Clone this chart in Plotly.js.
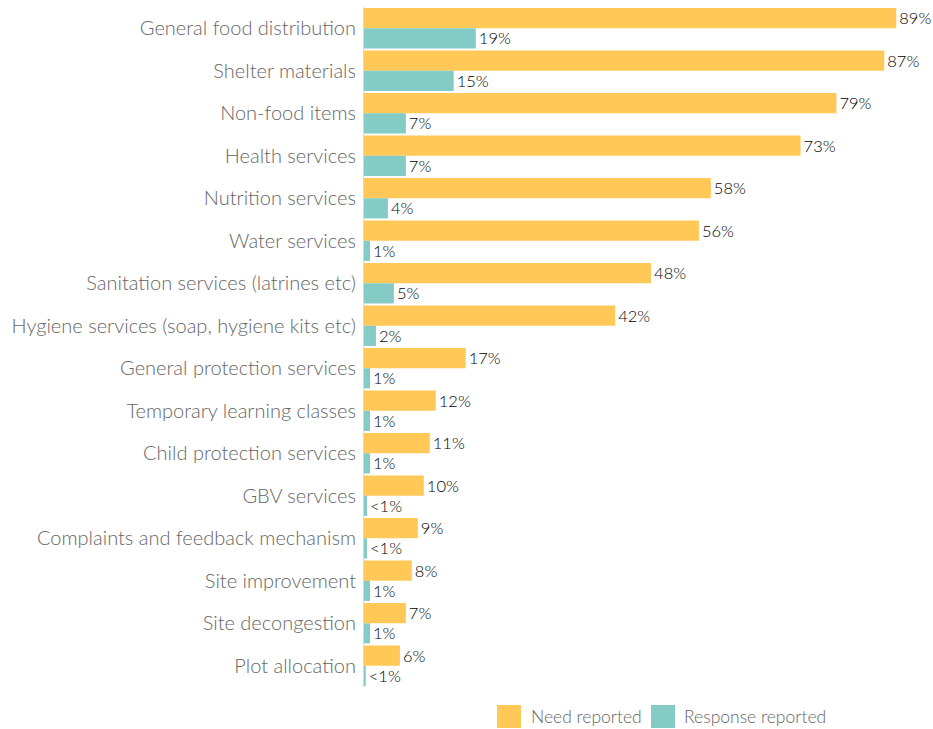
<!DOCTYPE html>
<html>
<head>
<meta charset="utf-8">
<script src="https://cdn.plot.ly/plotly-3.0.1.min.js"></script>
<style>html,body{margin:0;padding:0;background:#fff;}#chart{width:933px;height:729px;}</style>
</head>
<body>
<div id="chart"></div>
<script>
const categories = [
  "General food distribution",
  "Shelter materials",
  "Non-food items",
  "Health services",
  "Nutrition services",
  "Water services",
  "Sanitation services (latrines etc)",
  "Hygiene services (soap, hygiene kits etc)",
  "General protection services",
  "Temporary learning classes",
  "Child protection services",
  "GBV services",
  "Complaints and feedback mechanism",
  "Site improvement",
  "Site decongestion",
  "Plot allocation"
];
const needValues = [89, 87, 79, 73, 58, 56, 48, 42, 17, 12, 11, 10, 9, 8, 7, 6];
const responseValues = [18.7, 15, 7, 7, 4, 1, 5, 2, 1, 1, 1, 0.5, 0.5, 1, 1, 0.3];
const needLabels = ["89%", "87%", "79%", "73%", "58%", "56%", "48%", "42%", "17%", "12%", "11%", "10%", "9%", "8%", "7%", "6%"];
const responseLabels = ["19%", "15%", "7%", "7%", "4%", "1%", "5%", "2%", "1%", "1%", "1%", "<1%", "<1%", "1%", "1%", "<1%"];
const seriesNames = ["Need reported", "Response reported"];
const seriesColors = ["#FFC857", "#85CBC5"];

const font = "Lato, 'Open Sans', sans-serif";

const traces = [
  {
    type: "bar", orientation: "h", name: seriesNames[0],
    y: categories, x: needValues, text: needLabels,
    textposition: "outside", cliponaxis: false,
    textfont: {family: font, size: 16.5, color: "#000", weight: 300},
    marker: {color: seriesColors[0]}, showlegend: false, hoverinfo: "skip"
  },
  {
    type: "bar", orientation: "h", name: seriesNames[1],
    y: categories, x: responseValues, text: responseLabels,
    textposition: "outside", cliponaxis: false,
    textfont: {family: font, size: 16.5, color: "#000", weight: 300},
    marker: {color: seriesColors[1]}, showlegend: false, hoverinfo: "skip"
  }
];

const layout = {
  width: 933, height: 729,
  margin: {l: 364, r: 23, t: 7, b: 42, pad: 0},
  paper_bgcolor: "#fff", plot_bgcolor: "#fff",
  barmode: "group", bargap: 0.05, bargroupgap: 0,
  font: {family: font},
  xaxis: {range: [0, 91.3], showgrid: false, zeroline: false, showticklabels: false, ticks: "", showline: false, fixedrange: true},
  yaxis: {
    autorange: "reversed", showgrid: false, zeroline: false, ticks: "",
    showline: true, linecolor: "#d9d9d9", linewidth: 1,
    ticklabelstandoff: 3,
    tickfont: {family: font, size: 20, color: "#666", weight: 300}, fixedrange: true
  },
  shapes: [
    {type: "rect", xref: "paper", yref: "paper", x0: 0.2436, x1: 0.2875, y0: -0.0265, y1: -0.0603, fillcolor: seriesColors[0], line: {width: 0}},
    {type: "rect", xref: "paper", yref: "paper", x0: 0.5256, x1: 0.5696, y0: -0.0265, y1: -0.0603, fillcolor: seriesColors[1], line: {width: 0}}
  ],
  annotations: [
    {xref: "paper", yref: "paper", x: 0.302, y: -0.044, xanchor: "left", yanchor: "middle", text: seriesNames[0], showarrow: false, font: {family: font, size: 17.5, color: "#666", weight: 300}},
    {xref: "paper", yref: "paper", x: 0.582, y: -0.044, xanchor: "left", yanchor: "middle", text: seriesNames[1], showarrow: false, font: {family: font, size: 17.5, color: "#666", weight: 300}}
  ]
};

Plotly.newPlot("chart", traces, layout, {displayModeBar: false, staticPlot: true});
</script>
</body>
</html>
